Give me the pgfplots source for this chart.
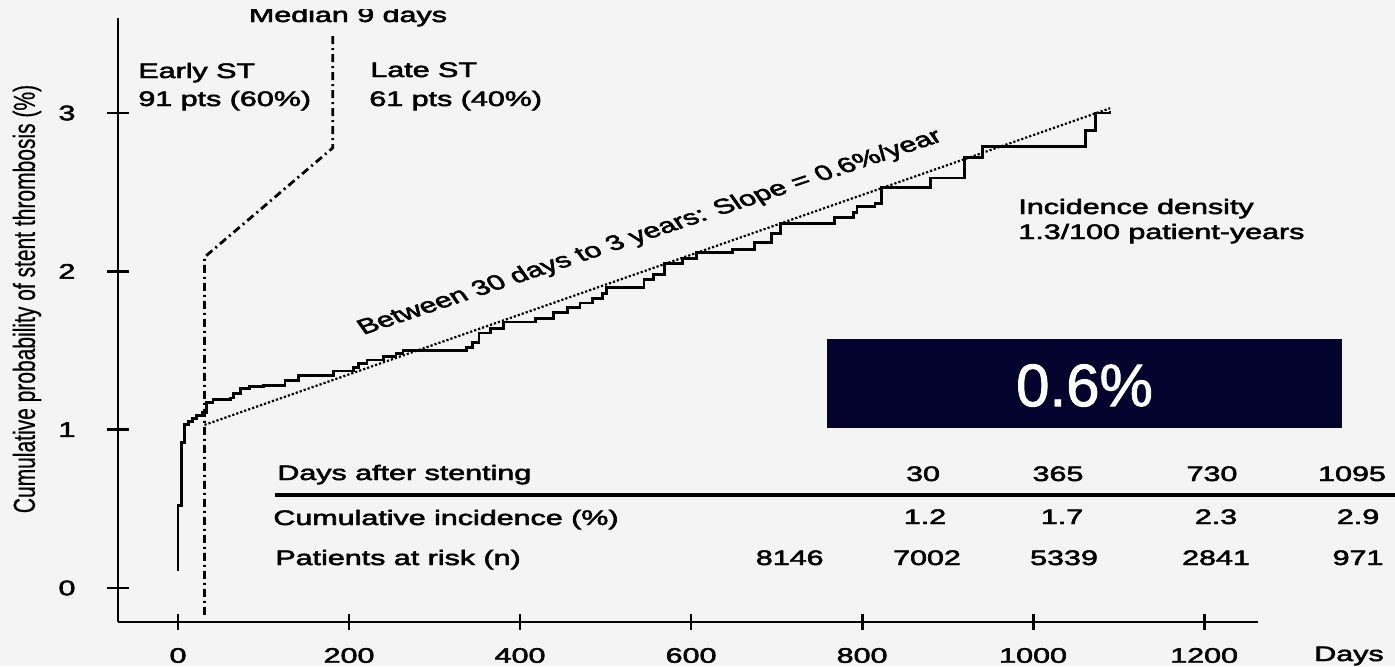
\documentclass[border=0pt]{standalone}
\usepackage{pgfplots}
\pgfplotsset{compat=1.18}
\usepackage{fontspec}
\setmainfont{Liberation Sans}[FakeBold=2.2]
\newfontfamily\thinfont{Liberation Sans}[FakeBold=0.6]
\newfontfamily\boxfont{Liberation Sans}[FakeBold=1.5]
\usepackage{graphicx}
\definecolor{bg}{HTML}{F4F4F4}
\definecolor{navy}{HTML}{03032E}
\newcommand\sx[1]{\scalebox{1.45}[1]{#1}}
\newcommand\fs{\fontsize{10.5}{12.6}\selectfont}
\pgfplotsset{common/.style={scale only axis, width=570pt, height=302pt,
  xmin=-70.2, xmax=1263, ymin=-0.215, ymax=3.60, clip=false,
  at={(59pt,22pt)}, anchor=south west,
  tick style={line width=1.4pt, black},
  tick align=outside,
  tick label style={font=\fs}}}
\begin{document}
\begin{tikzpicture}
\fill[bg] (0,0) rectangle (697.5pt,333pt);
\path[use as bounding box] (0,0) rectangle (697.5pt,333pt);
\clip (0,0) rectangle (697.5pt,333pt);

\begin{axis}[common, axis x line=bottom, axis y line=none,
  every outer x axis line/.append style={-, line width=1.4pt},
  every inner x axis line/.append style={-, line width=1.4pt},
  ytick=\empty, major tick length=8pt,
  xtick={0,200,400,600,800,1000,1200},
  xticklabel style={yshift=-5.5pt},
  xticklabels={\sx{0},\sx{200},\sx{400},\sx{600},\sx{800},\sx{1000},\sx{1200}}]
\addplot[const plot, line width=1.4pt, black] coordinates {
(0,0.11)(0,0.52)(4,0.92)(8,1.03)(12,1.05)(17,1.07)(22,1.09)(28,1.11)(33,1.17)
(41,1.19)(61,1.20)(65,1.23)(73,1.26)(84,1.27)(100,1.28)(125,1.31)(141,1.34)
(182,1.37)(205,1.39)(211,1.42)(221,1.44)(240,1.46)(255,1.48)(263,1.50)
(337,1.52)(344,1.55)(352,1.61)(365,1.64)(381,1.68)(418,1.70)(439,1.74)
(455,1.77)(470,1.80)(485,1.83)(496,1.86)(501,1.90)(545,1.95)(556,1.98)
(569,2.05)(590,2.08)(606,2.12)(648,2.14)(674,2.18)(694,2.24)(705,2.30)
(768,2.34)(790,2.37)(794,2.41)(815,2.43)(823,2.53)(880,2.59)(920,2.72)
(941,2.79)(1061,2.89)(1073,3.00)(1090,3.01)};
\addplot[densely dotted, line width=1.1pt, black] coordinates {(31,1.03) (1090,3.03)};
\addplot[line width=1.4pt, black, dash pattern=on 4pt off 2pt on 1pt off 2pt]
  coordinates {(31,-0.17) (31,2.09) (181,2.78) (181,3.51)};
\end{axis}

\begin{axis}[common, axis x line=none, axis y line=left,
  every outer y axis line/.append style={-, line width=1.4pt},
  every inner y axis line/.append style={-, line width=1.4pt},
  xtick=\empty, major tick length=11.5pt,
  ytick={0,1,2,3},
  yticklabels={\sx{0},\sx{1},\sx{2},\sx{3}},
  yticklabel style={xshift=-12pt}]
\end{axis}

\begin{scope}[x=0.5pt,y=-0.5pt,shift={(0pt,333pt)}]
\tikzset{every node/.style={inner sep=0pt, font=\fs}}
\node[anchor=base] at (348,22) {\sx{Median 9 days}};
\fill[bg] (230,0) rectangle (470,9);
\node[anchor=base west] at (138,78) {\sx{Early ST}};
\node[anchor=base west] at (138,106) {\sx{91 pts (60\%)}};
\node[anchor=base west] at (370,77) {\sx{Late ST}};
\node[anchor=base west] at (369,106) {\sx{61 pts (40\%)}};
\node[anchor=base west] at (1018,214) {\sx{Incidence density}};
\node[anchor=base west] at (1018,239) {\sx{1.3/100 patient-years}};
% table
\node[anchor=base west] at (277,480) {\sx{Days after stenting}};
\draw[line width=2pt] (275,495) -- (1400,495);
\node[anchor=base west] at (273,525) {\sx{Cumulative incidence (\%)}};
\node[anchor=base west] at (275,565) {\sx{Patients at risk (n)}};
\node[anchor=base east] at (824,565) {\sx{8146}};
\node[anchor=base] at (923,481) {\sx{30}};
\node[anchor=base] at (1058,481) {\sx{365}};
\node[anchor=base] at (1212,481) {\sx{730}};
\node[anchor=base] at (1352,481) {\sx{1095}};
\node[anchor=base] at (925,524) {\sx{1.2}};
\node[anchor=base] at (1062,524) {\sx{1.7}};
\node[anchor=base] at (1216,524) {\sx{2.3}};
\node[anchor=base] at (1358,524) {\sx{2.9}};
\node[anchor=base] at (927,565) {\sx{7002}};
\node[anchor=base] at (1064,565) {\sx{5339}};
\node[anchor=base] at (1216,565) {\sx{2841}};
\node[anchor=base] at (1358,565) {\sx{971}};
\node[anchor=base] at (1349,661) {\sx{Days}};
% box
\fill[navy] (827,339) rectangle (1342,428);
\node[text=white, font=\fontsize{30}{36}\selectfont\boxfont] at (1084.5,385.5) {0.6\%};
% y label
\node[rotate=90, font=\fs\thinfont] at (27,299) {\scalebox{1}[1.45]{Cumulative probability of stent thrombosis (\%)}};
% slope text
\begin{scope}[shift={(363,335)}, xscale=1.45]
\node[rotate=25.9, anchor=base west, transform shape] at (0,0) {Between 30 days to 3 years: Slope = 0.6\%/year};
\end{scope}
\end{scope}
\end{tikzpicture}
\end{document}
